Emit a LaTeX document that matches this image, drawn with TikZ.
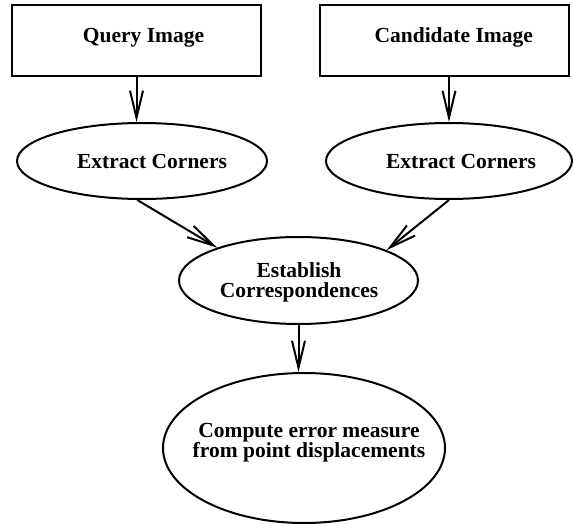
\documentclass[tikz,border=0pt]{standalone}
\usepackage{fontspec}
\setmainfont{Liberation Serif}
\usetikzlibrary{shapes.geometric,arrows.meta}
\tikzset{
  shapeline/.style={draw=black,line width=2pt,inner sep=0pt},
  boxnode/.style={shapeline,rectangle},
  ovalnode/.style={shapeline,ellipse},
  lbl/.style={inner sep=0pt,font=\fontsize{21.5}{20}\selectfont\bfseries,align=center},
  arr/.style={line width=2pt,-{Straight Barb[length=27pt,width=13pt,line width=2pt]}}
}
\begin{document}
\begin{tikzpicture}[x=1pt,y=-1pt]
\useasboundingbox (0,0) rectangle (573,524);
% shapes
\node[boxnode,minimum width=249pt,minimum height=71pt] (Q) at (136.5,40.5) {};
\node[boxnode,minimum width=249pt,minimum height=71pt] (Cd) at (444.5,40.5) {};
\node[ovalnode,minimum width=250pt,minimum height=76pt] (L) at (142,161) {};
\node[ovalnode,minimum width=246pt,minimum height=76pt] (R) at (449,161) {};
\node[ovalnode,minimum width=239pt,minimum height=87pt] (E) at (298.5,280.5) {};
\node[ovalnode,minimum width=282pt,minimum height=150pt] (C) at (304,448) {};
% labels
\node[lbl,anchor=base] (qt) at (143.5,43) {Query Image};
\node[lbl,anchor=base] (cdt) at (453.7,43) {Candidate Image};
\node[lbl,anchor=base] (lt) at (152,168) {Extract Corners};
\node[lbl,anchor=base] (rt) at (461,168) {Extract Corners};
\node[lbl] (et) at (299,282) {Establish\\Correspondences};
\node[lbl] (ct) at (309,443) {Compute error measure\\from point displacements};
% connectors
\coordinate (qa) at (Q.south |- L.north);
\draw[arr] (Q.south) -- (qa);
\coordinate (ca) at (R.north |- Cd.south);
\draw[arr] (ca) -- (R.north);
\draw[arr] (L.-97.5) -- (E.158.8);
\draw[arr] (R.south) -- (E.19.7);
\coordinate (ea) at (E.south |- C.north);
\draw[arr] (E.south) -- (ea);
\end{tikzpicture}
\end{document}
